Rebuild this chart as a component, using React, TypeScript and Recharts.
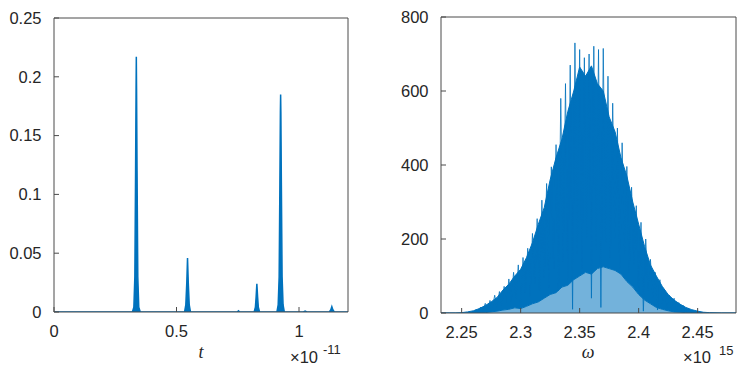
import { ComposedChart, Area, Line, XAxis, YAxis } from "recharts";

// left panel: pulse train, t in units of 1e-11
const tTimes = [
  0, 0.32, 0.326, 0.33, 0.333, 0.335, 0.336, 0.337, 0.339, 0.342, 0.346, 0.352,
  0.533, 0.538, 0.542, 0.545, 0.548, 0.552, 0.557,
  0.748, 0.753, 0.758,
  0.817, 0.822, 0.825, 0.828, 0.831, 0.834, 0.839,
  0.91, 0.915, 0.919, 0.922, 0.924, 0.925, 0.926, 0.928, 0.931, 0.935, 0.94,
  1.018, 1.025, 1.032,
  1.124, 1.13, 1.134, 1.138, 1.144, 1.2,
];
const tPower = [
  0, 0, 0.004, 0.03, 0.12, 0.19, 0.217, 0.19, 0.12, 0.03, 0.004, 0,
  0, 0.006, 0.025, 0.046, 0.025, 0.006, 0,
  0, 0.001, 0,
  0, 0.004, 0.013, 0.024, 0.013, 0.004, 0,
  0, 0.006, 0.03, 0.11, 0.17, 0.185, 0.17, 0.11, 0.03, 0.006, 0,
  0, 0.0008, 0,
  0, 0.002, 0.0045, 0.002, 0, 0,
];
const tTicks = [0, 0.5, 1];
const pTicks = [0, 0.05, 0.1, 0.15, 0.2, 0.25];

// right panel: spectrum, omega in units of 1e15
const wCoreFreq = [
  2.2325, 2.24, 2.245, 2.25, 2.255, 2.26, 2.265, 2.27, 2.275, 2.28, 2.285, 2.29, 2.295,
  2.3, 2.305, 2.31, 2.315, 2.32, 2.325, 2.33, 2.335, 2.34, 2.345, 2.35, 2.355,
  2.36, 2.365, 2.37, 2.375, 2.38, 2.385, 2.39, 2.395, 2.4, 2.405, 2.41, 2.415,
  2.42, 2.425, 2.43, 2.435, 2.44, 2.445, 2.45, 2.455, 2.46, 2.47, 2.4825,
];
const wCoreHigh = [
  0, 0, 0, 1, 3, 6, 12, 20, 30, 42, 62, 78, 100,
  118, 150, 190, 240, 285, 360, 420, 470, 545, 600, 665, 640,
  668, 620, 600, 530, 490, 420, 370, 300, 240, 180, 130, 100,
  72, 50, 35, 24, 15, 9, 5, 2, 1, 0, 0,
];
const wCoreLow = [
  0, 0, 0, 0, 0, 0, 0, 1, 3, 5, 8, 10, 14,
  12, 18, 25, 30, 40, 50, 55, 70, 75, 90, 100, 110,
  105, 120, 125, 120, 115, 105, 85, 70, 50, 35, 25, 15,
  10, 6, 3, 2, 1, 0, 0, 0, 0, 0, 0,
];
const wSpikeFreq = [
  2.262, 2.264, 2.266, 2.268, 2.27, 2.272, 2.274, 2.276, 2.278, 2.28,
  2.282, 2.284, 2.286, 2.288, 2.29, 2.292, 2.294, 2.296, 2.298, 2.3,
  2.302, 2.304, 2.306, 2.308, 2.31, 2.312, 2.314, 2.316, 2.318, 2.32,
  2.322, 2.324, 2.326, 2.328, 2.33, 2.332, 2.334, 2.336, 2.338, 2.34,
  2.342, 2.344, 2.346, 2.348, 2.35, 2.352, 2.354, 2.356, 2.358, 2.36,
  2.362, 2.364, 2.366, 2.368, 2.37, 2.372, 2.374, 2.376, 2.378, 2.38,
  2.382, 2.384, 2.386, 2.388, 2.39, 2.392, 2.394, 2.396, 2.398, 2.4,
  2.402, 2.404, 2.406, 2.408, 2.41, 2.412, 2.414, 2.416, 2.418, 2.42,
  2.422, 2.424, 2.426, 2.428, 2.43, 2.432, 2.434, 2.436, 2.438, 2.44,
  2.442, 2.444, 2.446, 2.448, 2.45, 2.452,
];
const wSpikeAmp = [
  10, 2, 16, 5, 26, 8, 34, 12, 48, 14,
  58, 20, 72, 26, 92, 30, 110, 40, 130, 22,
  150, 55, 175, 45, 215, 80, 255, 60, 305, 95,
  350, 70, 395, 120, 455, 60, 580, 140, 620, 90,
  670, 10, 730, 160, 712, 120, 690, 200, 700, 40,
  721, 170, 712, 15, 715, 190, 640, 150, 567, 200,
  500, 120, 460, 160, 396, 110, 340, 130, 290, 60,
  245, 5, 200, 60, 145, 40, 110, 8, 90, 25,
  62, 14, 48, 10, 40, 8, 28, 5, 20, 3,
  12, 2, 8, 1, 4, 0,
];
const wTicks = [2.25, 2.3, 2.35, 2.4, 2.45];
const sTicks = [0, 200, 400, 600, 800];

const pulseData = tTimes.map((t, i) => ({ t, p: tPower[i] }));
const coreData = wCoreFreq.map((w, i) => ({ w, band: [wCoreLow[i], wCoreHigh[i]], under: wCoreLow[i] }));
const spikeData = wSpikeFreq.map((w, i) => ({ w, s: wSpikeAmp[i] }));

const BLUE = "#0072BD";
const AXIS = "#4a4a4a";
const tickStyle = { fill: "#262626", fontSize: 16.5, fontFamily: "Liberation Sans, Arial, sans-serif" };

export default function App() {
  return (
    <div style={{ position: "absolute", left: 0, top: 0, width: 748, height: 379, background: "#fff" }}>
      <div style={{ position: "absolute", left: 0, top: 0 }}>
        <ComposedChart width={374} height={379} data={pulseData} margin={{ top: 17, right: 25, bottom: 37, left: 0 }}>
          <XAxis dataKey="t" type="number" domain={[0, 1.2]} ticks={tTicks} allowDataOverflow
            height={30} tickSize={-5} tickMargin={18} tick={tickStyle} stroke={AXIS} tickFormatter={(v) => String(v)} />
          <XAxis xAxisId="top" orientation="top" dataKey="t" type="number" domain={[0, 1.2]} ticks={tTicks}
            allowDataOverflow height={1} tickSize={-5} tick={false} stroke={AXIS} />
          <YAxis type="number" domain={[0, 0.25]} ticks={pTicks} allowDataOverflow width={54}
            tickSize={-5} tickMargin={17.5} tick={tickStyle} stroke={AXIS} tickFormatter={(v) => String(v)} />
          <YAxis yAxisId="right" orientation="right" type="number" domain={[0, 0.25]} ticks={pTicks}
            allowDataOverflow width={1} tickSize={-5} tick={false} stroke={AXIS} />
          <Area type="linear" dataKey="p" stroke={BLUE} strokeWidth={1.5} fill={BLUE} fillOpacity={1}
            dot={false} activeDot={false} isAnimationActive={false} />
        </ComposedChart>
      </div>
      <div style={{ position: "absolute", left: 374, top: 0 }}>
        <ComposedChart width={374} height={379} margin={{ top: 16, right: 11, bottom: 36, left: 0 }}>
          <XAxis dataKey="w" type="number" domain={[2.2325, 2.4825]} ticks={wTicks} allowDataOverflow
            height={30} tickSize={-5} tickMargin={18} tick={tickStyle} stroke={AXIS} tickFormatter={(v) => String(v)} />
          <XAxis xAxisId="top" orientation="top" dataKey="w" type="number" domain={[2.2325, 2.4825]} ticks={wTicks}
            allowDataOverflow height={1} tickSize={-5} tick={false} stroke={AXIS} />
          <YAxis type="number" domain={[0, 800]} ticks={sTicks} allowDataOverflow width={67}
            tickSize={-5} tickMargin={17.5} tick={tickStyle} stroke={AXIS} />
          <YAxis yAxisId="right" orientation="right" type="number" domain={[0, 800]} ticks={sTicks}
            allowDataOverflow width={1} tickSize={-5} tick={false} stroke={AXIS} />
          <Area data={coreData} type="linear" dataKey="under" stroke="none" fill={BLUE}
            fillOpacity={0.55} dot={false} activeDot={false} isAnimationActive={false} />
          <Area data={coreData} type="linear" dataKey="band" stroke={BLUE} strokeWidth={1} fill={BLUE}
            fillOpacity={1} dot={false} activeDot={false} isAnimationActive={false} />
          <Line data={spikeData} type="linear" dataKey="s" stroke={BLUE} strokeWidth={1} strokeOpacity={0.8}
            dot={false} activeDot={false} isAnimationActive={false} />
        </ComposedChart>
      </div>
      <svg width={748} height={379} style={{ position: "absolute", left: 0, top: 0, pointerEvents: "none" }}>
        <text x={201} y={358} textAnchor="middle" fontSize={18} fontStyle="italic"
          fontFamily="Liberation Serif, serif" fill="#262626">t</text>
        <text x={290} y={363} fontSize={16.5} fontFamily="Liberation Sans, Arial, sans-serif" fill="#262626">×10</text>
        <text x={323} y={354} fontSize={13} fontFamily="Liberation Sans, Arial, sans-serif" fill="#262626">-11</text>
        <text x={588} y={358} textAnchor="middle" fontSize={18} fontStyle="italic"
          fontFamily="Liberation Serif, serif" fill="#262626">ω</text>
        <text x={683} y={363} fontSize={16.5} fontFamily="Liberation Sans, Arial, sans-serif" fill="#262626">×10</text>
        <text x={719} y={355} fontSize={13} fontFamily="Liberation Sans, Arial, sans-serif" fill="#262626">15</text>
      </svg>
    </div>
  );
}
